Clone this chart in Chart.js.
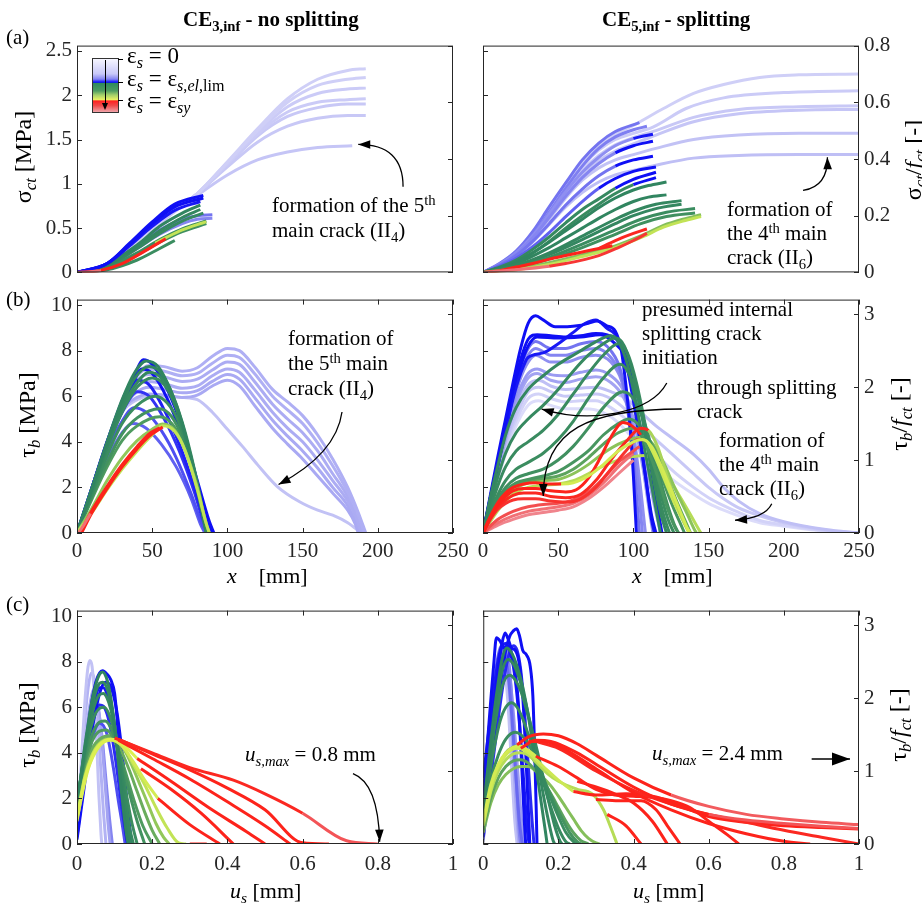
<!DOCTYPE html>
<html>
<head>
<meta charset="utf-8">
<title>Concrete stress, bond stress and slip along the tie</title>
<script src="https://cdn.jsdelivr.net/npm/chart.js@4.4.1/dist/chart.umd.min.js"></script>
<style>
  body { margin: 0; width: 922px; height: 911px; position: relative; overflow: hidden; background: #fff;
         font-family: "Liberation Serif", "Times New Roman", serif; color: #000; }
  canvas { position: absolute; }
  .t { position: absolute; font-size: 21px; line-height: 1; white-space: nowrap; }
  .b { font-weight: bold; }
  .ax { font-size: 22px; }
  .ay { font-size: 24px; }
  .rot { transform: translate(-50%, -50%) rotate(-90deg); }
  .note { line-height: 24px; }
  .leg { font-size: 23px; }
  sub, sup { font-size: 70%; line-height: 0; position: relative; vertical-align: baseline; }
  sub { top: 0.32em; }
  sup { top: -0.5em; }
  #bar { position: absolute; left: 92px; top: 58px; width: 25px; height: 53px; border: 1px solid #333;
    background: linear-gradient(to bottom, #f6f6ff 0%, #c8c8f8 28%, #8484f2 38%, #0a0aff 44%, #2e8a5e 46%,
      #4d9c60 60%, #a4d06a 68%, #eaf262 77%, #ff2020 79%, #f04a4a 88%, #f0a4aa 100%); }
  .mk { position: absolute; background: #000; }
</style>
</head>
<body>
<canvas id="stress3" width="460" height="262" style="left:20px;top:28px"></canvas>
<canvas id="stress5" width="452" height="262" style="left:470px;top:28px"></canvas>
<canvas id="bond3" width="460" height="290" style="left:20px;top:282px"></canvas>
<canvas id="bond5" width="452" height="290" style="left:470px;top:282px"></canvas>
<canvas id="slip3" width="460" height="290" style="left:20px;top:593px"></canvas>
<canvas id="slip5" width="452" height="290" style="left:470px;top:593px"></canvas>

<div class="t b" style="left:183px;top:9px">CE<sub>3,inf</sub> - no splitting</div>
<div class="t b" style="left:602px;top:9px">CE<sub>5,inf</sub> - splitting</div>
<div class="t" style="left:6px;top:27px">(a)</div>
<div class="t" style="left:6px;top:289px">(b)</div>
<div class="t" style="left:6px;top:594px">(c)</div>

<div class="t ay rot" style="left:23px;top:157px">σ<sub><i>ct</i></sub> [MPa]</div>
<div class="t ay rot" style="left:27px;top:415px">τ<sub><i>b</i></sub> [MPa]</div>
<div class="t ay rot" style="left:27px;top:725px">τ<sub><i>b</i></sub> [MPa]</div>
<div class="t ay rot" style="left:913px;top:160px">σ<sub><i>ct</i></sub>/<i>f</i><sub><i>ct</i></sub> [-]</div>
<div class="t ay rot" style="left:899px;top:414px">τ<sub><i>b</i></sub>/<i>f</i><sub><i>ct</i></sub> [-]</div>
<div class="t ay rot" style="left:898px;top:725px">τ<sub><i>b</i></sub>/<i>f</i><sub><i>ct</i></sub> [-]</div>

<div class="t ax" style="left:227px;top:565px"><i>x</i>&nbsp;&nbsp;&nbsp;&nbsp;[mm]</div>
<div class="t ax" style="left:632px;top:565px"><i>x</i>&nbsp;&nbsp;&nbsp;&nbsp;[mm]</div>
<div class="t ax" style="left:230px;top:880px"><i>u</i><sub><i>s</i></sub>&nbsp;[mm]</div>
<div class="t ax" style="left:633px;top:880px"><i>u</i><sub><i>s</i></sub>&nbsp;[mm]</div>

<div class="t" style="left:272px;top:193px;line-height:25px">formation of the 5<sup>th</sup><br>main crack (II<sub>4</sub>)</div>
<div class="t note" style="left:727px;top:197px">formation of<br>the 4<sup>th</sup> main<br>crack (II<sub>6</sub>)</div>
<div class="t" style="left:288px;top:326px;line-height:25px">formation of<br>the 5<sup>th</sup> main<br>crack (II<sub>4</sub>)</div>
<div class="t note" style="left:642px;top:297px">presumed internal<br>splitting crack<br>initiation</div>
<div class="t note" style="left:697px;top:375px">through splitting<br>crack</div>
<div class="t note" style="left:719px;top:428px">formation of<br>the 4<sup>th</sup> main<br>crack (II<sub>6</sub>)</div>
<div class="t" style="left:245px;top:744px"><i>u</i><sub><i>s,max</i></sub> = 0.8 mm</div>
<div class="t" style="left:652px;top:743px"><i>u</i><sub><i>s,max</i></sub> = 2.4 mm</div>

<!-- steel strain colour bar -->
<div id="bar"></div>
<div class="mk" style="left:105px;top:60px;width:1px;height:44px"></div>
<div style="position:absolute;left:102px;top:103px;border-left:3.5px solid transparent;border-right:3.5px solid transparent;border-top:7px solid #000"></div>
<div class="mk" style="left:118px;top:59px;width:5px;height:1px"></div>
<div class="mk" style="left:118px;top:82px;width:5px;height:1px"></div>
<div class="mk" style="left:118px;top:100px;width:5px;height:1px"></div>
<div class="t leg" style="left:127px;top:44px">ε<sub><i>s</i></sub> = 0</div>
<div class="t leg" style="left:127px;top:67px">ε<sub><i>s</i></sub> = ε<sub><i>s</i>,<i>el</i>,lim</sub></div>
<div class="t leg" style="left:127px;top:89px">ε<sub><i>s</i></sub> = ε<sub><i>sy</i></sub></div>

<script>
// concrete tensile strength, links the MPa axes to the normalised ones
const fct = 3.2;

const xTicksMm = [0, 50, 100, 150, 200, 250];
const slipTicksMm = [0, 0.2, 0.4, 0.6, 0.8, 1];
const sigmaTicks = [0, 0.5, 1, 1.5, 2, 2.5];
const sigmaRatioTicks = [0, 0.2, 0.4, 0.6, 0.8];
const tauTicks = [0, 2, 4, 6, 8, 10];
const tauRatioTicks = [0, 1, 2, 3];

// (a) concrete stress sigma_ct [MPa] over x [mm], CE3
const stressCE3 = [
  [[0,0],[20,0.08],[40,0.32],[60,0.62],[80,0.87],[100,1.1],[120,1.27],[140,1.36],[160,1.41],[183,1.43]],
  [[0,0],[20,0.08],[40,0.33],[60,0.64],[80,0.89],[100,1.19],[120,1.47],[140,1.65],[160,1.74],[180,1.77],[192,1.77]],
  [[0,0],[20,0.08],[40,0.33],[60,0.64],[80,0.89],[100,1.21],[120,1.54],[140,1.76],[160,1.86],[180,1.9],[192,1.9]],
  [[0,0],[20,0.08],[40,0.33],[60,0.64],[80,0.89],[100,1.22],[120,1.56],[140,1.81],[160,1.92],[180,1.95],[192,1.96]],
  [[0,0],[20,0.08],[40,0.33],[60,0.64],[80,0.89],[100,1.23],[120,1.58],[140,1.87],[160,2.02],[180,2.07],[192,2.08]],
  [[0,0],[20,0.08],[40,0.33],[60,0.64],[80,0.89],[100,1.24],[120,1.6],[140,1.92],[160,2.11],[180,2.18],[192,2.2]],
  [[0,0],[20,0.08],[40,0.33],[60,0.64],[80,0.89],[100,1.25],[120,1.62],[140,1.96],[160,2.18],[180,2.28],[192,2.3]],
  [[0,0],[20,0.07],[40,0.27],[55,0.43],[70,0.55],[80,0.6],[90,0.61]],
  [[0,0],[20,0.08],[40,0.3],[55,0.48],[70,0.6],[80,0.64],[90,0.65]],
  [[0,0],[20,0.03],[40,0.14],[55,0.27],[65,0.36]],
  [[0,0],[20,0.05],[40,0.2],[55,0.34],[70,0.46],[86,0.55]],
  [[0,0],[20,0.06],[40,0.22],[55,0.37],[70,0.49],[86,0.58]],
  [[52,0.33],[60,0.4],[70,0.48],[80,0.54],[86,0.57]],
  [[0,0],[20,0.07],[40,0.27],[55,0.44],[70,0.58],[84,0.67]],
  [[0,0],[20,0.08],[40,0.29],[55,0.47],[70,0.62],[82,0.71]],
  [[0,0],[20,0.09],[40,0.31],[55,0.52],[70,0.67],[82,0.76]],
  [[0,0],[20,0.1],[35,0.3],[50,0.52],[65,0.7],[82,0.8]],
  [[0,0],[20,0.1],[35,0.32],[50,0.55],[65,0.74],[84,0.84]],
  [[0,0],[20,0.1],[35,0.33],[50,0.57],[65,0.77],[84,0.87]],
  [[0,0],[15,0.02],[30,0.1],[45,0.24],[59,0.38]],
  [[0,0],[8,0.005],[16,0.02]]
];
// steel strain level of each curve (0 = unloaded, 0.45 = elastic limit, 0.83+ = yielded);
// [a, x1, b] switches from level a to level b at x1
const stressCE3Stage = [0.13,0.12,0.12,0.11,0.11,0.1,0.1, 0.3,0.33, 0.5,0.52,0.5,0.74,0.48,0.47,0.46, 0.44,0.45,0.45, 0.84,0.97];

// (a) concrete stress, CE5
const stressCE5 = [
  [[0,0],[11,0.07],[22,0.18],[33,0.34],[44,0.54],[55,0.74],[66,0.9],[77,1.02],[88,1.1],[100,1.15],[115,1.21],[140,1.29],[170,1.32],[210,1.33],[250,1.33]],
  [[0,0],[11,0.08],[22,0.2],[33,0.38],[44,0.6],[55,0.84],[66,1.04],[77,1.18],[88,1.27],[100,1.33],[115,1.4],[140,1.5],[170,1.55],[210,1.57],[250,1.57]],
  [[0,0],[11,0.09],[22,0.21],[33,0.4],[44,0.64],[55,0.89],[66,1.1],[77,1.26],[88,1.37],[100,1.45],[115,1.55],[140,1.7],[170,1.79],[210,1.83],[250,1.84]],
  [[0,0],[11,0.09],[22,0.22],[33,0.41],[44,0.66],[55,0.92],[66,1.15],[77,1.32],[88,1.44],[100,1.52],[115,1.6],[140,1.75],[170,1.84],[210,1.87],[250,1.88]],
  [[0,0],[11,0.1],[22,0.23],[33,0.43],[44,0.7],[55,0.96],[66,1.2],[77,1.38],[88,1.5],[100,1.57],[113,1.64],[135,1.85],[160,1.97],[200,2.03],[250,2.05]],
  [[0,0],[11,0.1],[22,0.24],[33,0.45],[44,0.73],[55,1.0],[66,1.25],[77,1.43],[88,1.56],[100,1.66],[120,1.85],[140,2.02],[160,2.12],[184,2.2],[210,2.23],[250,2.24]],
  [[0,0],[11,0.1],[22,0.24],[33,0.46],[44,0.74],[55,1.01],[66,1.27],[77,1.46],[88,1.59],[104,1.69]],
  [[0,0],[11,0.09],[22,0.22],[33,0.42],[44,0.68],[55,0.95],[66,1.2],[77,1.4],[88,1.53],[100,1.61],[109,1.65]],
  [[0,0],[11,0.09],[22,0.22],[33,0.41],[44,0.66],[55,0.91],[66,1.13],[77,1.3],[88,1.43],[100,1.51],[113,1.56]],
  [[0,0],[11,0.09],[22,0.21],[33,0.39],[44,0.62],[55,0.86],[66,1.07],[77,1.23],[88,1.35],[100,1.43],[113,1.48]],
  [[0,0],[11,0.08],[22,0.19],[33,0.35],[44,0.55],[55,0.76],[66,0.94],[77,1.09],[88,1.2],[100,1.27],[113,1.31]],
  [[0,0],[11,0.07],[22,0.16],[33,0.29],[44,0.45],[55,0.63],[66,0.8],[77,0.95],[88,1.06],[100,1.14],[115,1.19]],
  [[0,0],[11,0.06],[22,0.14],[33,0.26],[44,0.4],[55,0.56],[66,0.71],[77,0.83],[88,0.95],[100,1.05],[115,1.13]],
  [[0,0],[11,0.05],[22,0.12],[33,0.22],[44,0.35],[55,0.5],[66,0.64],[77,0.77],[88,0.89],[100,0.99],[115,1.07]],
  [[0,0],[11,0.05],[22,0.12],[33,0.22],[44,0.34],[55,0.47],[66,0.6],[77,0.73],[88,0.84],[100,0.93],[110,0.98],[122,1.02]],
  [[0,0],[22,0.1],[44,0.28],[55,0.39],[66,0.5],[77,0.61],[88,0.71],[100,0.8],[110,0.85],[122,0.875]],
  [[0,0],[22,0.08],[44,0.22],[66,0.41],[88,0.6],[100,0.69],[115,0.77],[132,0.81]],
  [[0,0],[22,0.07],[44,0.2],[66,0.37],[88,0.55],[100,0.64],[115,0.72],[132,0.77]],
  [[0,0],[22,0.06],[44,0.17],[66,0.32],[88,0.48],[105,0.6],[122,0.68],[141,0.72]],
  [[0,0],[22,0.05],[44,0.15],[66,0.28],[88,0.43],[105,0.55],[122,0.63],[141,0.67]],
  [[0,0],[22,0.04],[44,0.11],[66,0.2],[88,0.3],[106,0.42],[120,0.53],[133,0.6],[145,0.65]],
  [[0,0],[22,0.03],[44,0.09],[66,0.18],[88,0.28],[106,0.4],[120,0.51],[133,0.58],[145,0.63]],
  [[0,0],[11,0.02],[22,0.06],[33,0.1],[44,0.15],[55,0.19],[66,0.23],[77,0.27],[86,0.3]],
  [[77,0.27],[88,0.36],[100,0.44],[109,0.49]],
  [[0,0],[22,0.03],[44,0.07],[55,0.1],[77,0.19],[90,0.28],[100,0.36],[109,0.44]]
];
const stressCE5Stage = [0.15,0.14,0.13,0.12,0.11,0.1, 0.33,0.31,[0.28,90,0.44],[0.3,88,0.45],[0.33,78,0.45],[0.36,72,0.45],[0.48,86,0.45],[0.49,96,0.45],
  0.46,0.46,0.47,0.47,0.5,0.52,0.64,0.74, 0.84,0.85,[0.97,30,0.88]];

// (b) bond stress tau_b [MPa] over x [mm], CE3
const bondCE3 = [
  [[0,0],[10,1.9],[20,3.8],[30,5.3],[40,5.85],[48,6.0],[60,6.0],[70,5.95],[80,5.85],[90,5.3],[100,4.55],[110,3.8],[120,3.0],[133,2.05],[148,1.37],[160,1.0],[170,0.78],[180,0.45],[189,0]],
  [[0,0],[10,1.9],[20,3.85],[30,5.4],[40,5.95],[48,6.1],[58,6.05],[70,5.95],[80,6.05],[90,6.45],[100,6.7],[108,6.45],[118,5.6],[130,4.6],[140,3.9],[150,3.25],[160,2.5],[170,1.75],[180,1.0],[185,0.4],[187,0]],
  [[0,0],[10,1.9],[20,3.85],[30,5.45],[40,6.2],[48,6.4],[58,6.3],[70,6.15],[80,6.25],[90,6.65],[100,6.95],[108,6.75],[118,5.95],[130,4.95],[140,4.25],[150,3.6],[160,2.85],[170,2.0],[180,1.2],[185,0.5],[188,0]],
  [[0,0],[10,1.9],[20,3.85],[30,5.5],[40,6.45],[48,6.65],[58,6.55],[70,6.35],[80,6.45],[90,6.9],[100,7.2],[108,7.05],[118,6.3],[130,5.3],[140,4.6],[150,4.0],[160,3.2],[170,2.3],[180,1.4],[186,0.6],[189,0]],
  [[0,0],[10,1.9],[20,3.85],[30,5.6],[40,6.7],[48,6.95],[58,6.85],[70,6.65],[80,6.75],[90,7.15],[100,7.5],[108,7.4],[118,6.65],[130,5.65],[140,5.0],[150,4.4],[160,3.6],[170,2.6],[180,1.6],[186,0.7],[190,0]],
  [[0,0],[10,1.9],[20,3.9],[30,5.7],[40,6.9],[48,7.2],[58,7.1],[70,6.9],[80,7.0],[90,7.45],[100,7.8],[108,7.7],[118,7.0],[130,6.0],[140,5.4],[150,4.8],[160,3.95],[170,2.95],[180,1.8],[187,0.8],[191,0]],
  [[0,0],[10,1.9],[20,3.9],[30,5.7],[40,6.95],[48,7.35],[58,7.3],[70,7.1],[80,7.25],[90,7.75],[100,8.1],[108,8.0],[118,7.3],[130,6.3],[140,5.75],[150,5.15],[160,4.3],[170,3.25],[180,2.0],[187,0.9],[192,0]],
  [[0,0],[10,1.6],[20,3.2],[30,4.4],[37,4.8],[46,4.6],[56,3.9],[66,2.9],[76,1.5],[82,0.4],[85,0]],
  [[0,0],[10,1.8],[20,3.6],[30,4.9],[38,5.5],[46,5.3],[56,4.5],[66,3.3],[76,1.7],[83,0.4],[86,0]],
  [[0,0],[10,1.9],[20,3.8],[30,5.3],[40,6.2],[48,6.0],[58,5.0],[68,3.6],[78,1.8],[84,0.5],[87,0]],
  [[0,0],[10,2.0],[20,3.9],[30,5.5],[40,6.7],[48,6.5],[58,5.4],[68,3.9],[78,2.0],[85,0.5],[88,0]],
  [[0,0],[10,2.0],[20,4.0],[30,5.7],[38,6.7],[43,7.2],[50,7.0],[60,5.9],[70,4.2],[80,2.0],[87,0.4],[90,0]],
  [[0,0],[10,2.0],[20,4.0],[30,5.8],[38,6.9],[44,7.6],[50,7.4],[60,6.3],[70,4.6],[80,2.3],[88,0.5],[91,0]],
  [[0,0],[10,1.5],[20,2.9],[30,4.05],[40,4.7],[55,5.1],[63,4.8],[70,4.0],[78,2.5],[84,0.8],[87,0]],
  [[0,0],[10,1.6],[20,3.1],[30,4.35],[40,5.05],[55,5.45],[63,5.1],[70,4.2],[78,2.6],[84,0.8],[87,0]],
  [[0,0],[10,1.7],[20,3.4],[30,4.8],[40,5.6],[52,6.0],[60,5.7],[68,4.8],[76,3.0],[83,1.0],[86,0]],
  [[0,0],[10,1.85],[20,3.7],[30,5.3],[40,6.4],[50,6.8],[58,6.5],[66,5.5],[74,3.8],[82,1.5],[86,0]],
  [[0,0],[10,1.9],[20,3.8],[30,5.5],[40,6.6],[48,7.05],[56,6.8],[64,5.8],[72,4.2],[80,2.0],[85,0.3],[86,0]],
  [[0,0],[10,1.95],[20,3.9],[30,5.65],[38,6.75],[48,7.3],[56,7.0],[64,6.0],[72,4.4],[80,2.2],[85,0.5],[87,0]],
  [[0,0],[10,2.0],[20,4.0],[30,5.85],[38,7.0],[46,7.55],[54,7.3],[62,6.3],[70,4.8],[78,2.6],[84,0.8],[86,0]],
  [[0,0],[10,1.1],[20,2.3],[30,3.3],[40,4.05],[50,4.55],[57,4.78],[65,4.5],[72,3.6],[80,2.0],[86,0.4],[88,0]],
  [[0,0],[10,0.9],[20,1.9],[30,2.8],[40,3.6],[50,4.3],[57,4.7],[65,4.45],[72,3.6],[80,1.9],[86,0.4],[88,0]],
  [[3,0],[10,0.9],[20,1.95],[30,2.9],[40,3.7],[48,4.25],[57,4.65]],
  [[2,0],[10,1.0],[20,2.05],[30,3.0],[40,3.8],[48,4.35],[55,4.62]],
  [[1,0],[5,0.4],[9,0.85]]
];
const bondCE3Stage = [0.14,0.22,0.22,0.21,0.21,0.2,0.2, 0.36,0.38,0.41,0.43,0.45,0.45, 0.56,0.53,0.5,0.49,0.48,0.47,0.46, 0.66,0.74, 0.84,0.84,0.97];

// (b) bond stress, CE5
const bondCE5 = [
  [[0,0],[10,2.4],[20,4.4],[30,5.6],[37,5.8],[45,5.6],[55,5.45],[65,5.45],[75,5.4],[85,5.1],[95,4.5],[105,3.7],[115,3.0],[125,2.4],[140,1.7],[150,1.3],[160,1.0],[170,0.75],[184,0.45],[200,0.3],[228,0.08],[250,0]],
  [[0,0],[10,2.5],[20,4.6],[30,5.9],[37,6.1],[45,5.9],[55,5.75],[65,5.8],[75,5.8],[85,5.5],[95,5.0],[105,4.2],[115,3.5],[125,2.8],[140,2.0],[150,1.55],[160,1.2],[170,0.9],[184,0.55],[200,0.35],[228,0.1],[250,0]],
  [[0,0],[10,2.6],[20,4.8],[25,5.6],[30,6.2],[37,6.4],[45,6.2],[55,6.0],[65,6.05],[75,6.1],[85,5.9],[95,5.4],[105,4.7],[115,4.1],[125,3.5],[140,2.6],[150,2.0],[160,1.5],[170,1.1],[184,0.75],[200,0.45],[228,0.12],[250,0]],
  [[0,0],[10,2.7],[20,5.0],[25,5.9],[30,6.5],[37,6.7],[45,6.45],[55,6.3],[65,6.35],[75,6.4],[85,6.2],[95,5.9],[105,5.3],[115,4.7],[125,4.2],[140,3.45],[150,2.8],[160,2.0],[170,1.4],[184,0.85],[200,0.5],[228,0.15],[250,0]],
  [[0,0],[10,2.8],[20,5.3],[25,6.2],[30,6.8],[36,7.0],[45,6.7],[55,6.6],[65,6.75],[75,6.85],[85,6.6],[93,6.0],[100,4.9],[108,3.0],[114,1.2],[118,0]],
  [[0,0],[10,2.9],[20,5.5],[25,6.4],[30,7.0],[36,7.2],[45,6.95],[55,6.9],[65,7.05],[75,7.15],[85,6.9],[93,6.3],[100,5.0],[106,3.0],[111,0.8],[113,0]],
  [[0,0],[10,3.0],[20,5.7],[25,6.8],[30,7.5],[35,7.8],[45,7.5],[55,7.5],[65,7.7],[75,7.8],[85,7.5],[92,6.7],[99,4.8],[104,2.4],[108,0]],
  [[0,0],[10,3.1],[20,5.9],[25,7.0],[30,7.8],[35,8.1],[45,7.8],[55,7.8],[65,8.0],[75,8.1],[85,7.7],[92,6.8],[98,4.8],[103,2.2],[106,0]],
  [[0,0],[5,1.6],[10,3.2],[15,4.7],[20,6.1],[25,7.3],[30,8.1],[35,8.4],[45,8.1],[55,8.1],[65,8.3],[75,8.4],[85,8.0],[92,7.0],[97,5.0],[101,2.5],[104,0]],
  [[0,0],[5,1.5],[10,3.0],[15,4.5],[20,6.0],[25,7.3],[30,8.2],[36,8.6],[50,8.55],[65,8.6],[78,8.7],[88,8.3],[96,7.6],[104,5.8],[110,3.6],[115,1.5],[119,0]],
  [[0,0],[5,1.5],[10,3.0],[15,4.5],[20,5.9],[25,7.0],[30,7.7],[40,7.9],[50,8.3],[60,8.8],[68,9.2],[75,9.35],[82,9.0],[90,8.5],[96,7.2],[102,5.0],[108,2.5],[112,0.6],[114,0]],
  [[0,0],[5,1.6],[10,3.2],[15,4.8],[20,6.3],[25,7.6],[30,8.5],[36,8.7],[45,8.65],[55,8.6],[65,8.65],[75,8.75],[82,8.7],[90,8.4],[96,7.5],[102,5.5],[107,3.0],[112,0.8],[115,0]],
  [[0,0],[5,1.7],[10,3.4],[15,5.0],[20,6.6],[25,8.1],[30,9.2],[35,9.53],[40,9.35],[48,9.05],[56,9.05],[64,9.1],[70,9.2],[76,9.3],[82,9.1],[88,8.85],[92,8.0],[95,6.5],[98,4.5],[100,2.5],[102,0]],
  [[0,0],[10,1.0],[20,1.7],[30,2.0],[40,2.1],[50,2.15],[60,2.3],[70,2.6],[80,2.95],[90,3.2],[100,3.35],[108,3.4],[115,3.2],[122,2.6],[130,1.7],[138,0.8],[144,0.1],[145,0]],
  [[0,0],[10,1.2],[20,1.9],[30,2.2],[40,2.3],[50,2.35],[60,2.6],[70,3.0],[80,3.5],[90,3.9],[100,4.15],[106,4.2],[113,3.9],[120,3.1],[128,1.9],[136,0.8],[141,0.1],[142,0]],
  [[0,0],[10,1.3],[20,2.0],[30,2.3],[40,2.4],[50,2.5],[60,2.8],[70,3.3],[80,3.9],[90,4.4],[100,4.6],[107,4.4],[114,3.7],[122,2.5],[130,1.2],[136,0.3],[138,0]],
  [[0,0],[5,0.75],[10,1.35],[15,1.85],[22,2.2],[30,2.35],[40,2.5],[50,2.7],[60,3.1],[70,3.6],[80,4.3],[90,4.8],[97,5.0],[104,4.7],[111,3.8],[118,2.6],[126,1.2],[132,0.3],[134,0]],
  [[0,0],[5,0.8],[10,1.5],[15,2.0],[22,2.4],[30,2.6],[40,2.8],[50,3.2],[60,3.8],[70,4.6],[80,5.5],[93,6.2],[100,5.9],[107,4.9],[114,3.3],[121,1.6],[127,0.4],[130,0]],
  [[0,0],[5,0.9],[10,1.7],[15,2.3],[22,2.8],[30,3.1],[40,3.5],[50,4.1],[60,4.9],[70,5.9],[80,6.8],[91,7.4],[97,7.0],[103,5.9],[110,4.0],[117,2.0],[123,0.6],[127,0]],
  [[0,0],[5,1.1],[10,2.1],[15,2.9],[22,3.6],[30,4.0],[40,4.5],[50,5.2],[60,6.1],[70,7.0],[80,7.8],[90,8.3],[96,7.9],[102,6.6],[108,4.7],[114,2.5],[120,0.8],[124,0]],
  [[0,0],[5,1.3],[10,2.5],[15,3.5],[22,4.4],[30,5.0],[40,5.6],[50,6.3],[60,7.1],[70,7.8],[80,8.3],[88,8.55],[94,8.2],[100,6.9],[106,5.0],[112,2.8],[118,0.9],[122,0]],
  [[0,0],[5,1.6],[10,3.0],[15,4.3],[22,5.5],[30,6.3],[40,6.9],[50,7.4],[60,7.8],[70,8.2],[78,8.5],[85,8.65],[90,8.4],[96,7.4],[102,5.6],[108,3.5],[114,1.4],[118,0]],
  [[0,0],[10,0.35],[20,0.6],[30,0.8],[40,0.9],[50,1.0],[60,1.15],[70,1.5],[80,2.0],[90,2.6],[100,3.2]],
  [[0,0],[10,0.45],[20,0.75],[30,0.95],[40,1.05],[50,1.15],[60,1.3],[70,1.65],[80,2.2],[90,2.9],[100,3.5]],
  [[0,0],[10,0.6],[20,0.95],[30,1.15],[40,1.25],[50,1.3],[60,1.45],[70,1.8],[80,2.4],[90,3.1],[100,3.6],[104,3.8]],
  [[0,0],[5,0.6],[10,1.05],[15,1.3],[20,1.45],[27,1.5],[35,1.5],[45,1.4],[55,1.35],[65,1.5],[75,2.0],[85,2.8],[95,3.6],[103,4.1],[108,4.05],[114,3.4],[121,2.3],[128,1.2],[135,0.3],[138,0]],
  [[0,0],[5,0.65],[10,1.15],[15,1.45],[20,1.65],[27,1.75],[35,1.75],[45,1.6],[55,1.55],[65,1.7],[75,2.3],[85,3.2],[95,4.0],[105,4.6],[110,4.5],[116,3.8],[122,2.6],[128,1.4],[134,0.4],[137,0]],
  [[0,0],[5,0.7],[10,1.25],[15,1.6],[20,1.85],[27,1.95],[35,1.95],[45,1.85],[55,1.8],[62,1.9],[70,2.4],[78,3.3],[85,4.2],[93,4.85],[99,4.7],[105,4.3],[110,3.6],[116,2.5],[122,1.2],[128,0.2],[130,0]],
  [[0,0],[5,0.75],[10,1.35],[15,1.75],[20,2.0],[27,2.15],[35,2.2],[45,2.15],[52,2.15],[60,2.2],[70,2.5],[80,3.0],[90,3.6],[100,4.0],[106,4.1],[112,3.8],[118,3.0],[125,1.9],[132,0.8],[137,0]]
];
const bondCE5Stage = [0.06,0.09,0.12,0.15, 0.24,0.26,0.28,0.3,0.33, 0.45,0.44,0.45,0.45,
  0.72,0.65,0.58,0.55,0.52,0.5,0.49,0.48,0.47, 1.0,0.97,0.92,[0.87,106,0.76],[0.85,108,0.7],[0.84,103,0.55],[0.84,52,0.78]];

// (c) bond stress tau_b [MPa] over slip u_s [mm], CE3
const slipCE3 = [
  [[0,0.3],[0.01,1.8],[0.02,3.3],[0.03,4.6],[0.04,5.6],[0.048,6.1],[0.056,5.9],[0.066,4.8],[0.076,3.0],[0.086,1.2],[0.094,0]],
  [[0,0.4],[0.01,2.2],[0.02,4.0],[0.03,5.6],[0.04,6.6],[0.046,6.8],[0.054,6.4],[0.064,4.9],[0.074,2.8],[0.082,1.0],[0.088,0]],
  [[0,0.4],[0.01,2.8],[0.02,5.2],[0.03,6.9],[0.038,7.5],[0.046,7.2],[0.054,5.8],[0.062,3.6],[0.07,1.5],[0.077,0]],
  [[0,0.5],[0.01,3.2],[0.02,6.0],[0.028,7.6],[0.034,8.05],[0.04,7.8],[0.046,6.6],[0.052,4.6],[0.058,2.2],[0.064,0.4],[0.066,0]],
  [[0,0.3],[0.01,1.6],[0.02,2.8],[0.03,3.8],[0.04,4.6],[0.05,5.1],[0.06,5.3],[0.07,5.2],[0.08,4.8],[0.09,4.0],[0.1,3.0],[0.11,1.9],[0.12,0.9],[0.128,0]],
  [[0,0.5],[0.01,1.9],[0.02,3.2],[0.03,4.3],[0.04,5.2],[0.05,5.8],[0.06,6.1],[0.07,6.05],[0.08,5.7],[0.09,5.0],[0.1,4.0],[0.11,2.8],[0.12,1.5],[0.13,0.4],[0.134,0]],
  [[0,0.7],[0.01,2.2],[0.02,3.6],[0.03,4.8],[0.04,5.8],[0.05,6.5],[0.06,6.85],[0.07,6.85],[0.08,6.6],[0.09,6.1],[0.1,5.2],[0.11,3.8],[0.12,2.3],[0.13,0.9],[0.138,0]],
  [[0,0.2],[0.02,2.6],[0.04,5.0],[0.06,6.6],[0.075,7.1],[0.09,6.9],[0.105,5.9],[0.12,4.0],[0.135,1.5],[0.145,0]],
  [[0,0.6],[0.01,2.2],[0.02,3.8],[0.03,5.2],[0.04,6.3],[0.05,7.1],[0.06,7.5],[0.068,7.6],[0.08,7.45],[0.09,7.2],[0.1,6.6],[0.108,5.2],[0.115,3.5],[0.122,1.8],[0.13,0.5],[0.135,0]],
  [[0,1.6],[0.02,3.1],[0.04,4.0],[0.06,4.45],[0.09,4.65],[0.11,4.5],[0.13,4.0],[0.15,3.3],[0.17,2.5],[0.19,1.7],[0.21,0.9],[0.23,0.3],[0.245,0]],
  [[0,1.9],[0.02,3.3],[0.04,4.2],[0.06,4.6],[0.085,4.75],[0.1,4.6],[0.12,4.0],[0.14,3.2],[0.16,2.3],[0.18,1.4],[0.2,0.6],[0.22,0]],
  [[0,2.0],[0.01,2.8],[0.02,3.5],[0.03,4.05],[0.04,4.5],[0.05,4.8],[0.06,4.95],[0.078,5.0],[0.095,4.7],[0.11,4.1],[0.13,3.1],[0.15,2.0],[0.175,0.8],[0.2,0]],
  [[0,1.9],[0.01,2.85],[0.02,3.65],[0.03,4.3],[0.04,4.8],[0.05,5.15],[0.06,5.35],[0.075,5.4],[0.09,5.1],[0.105,4.4],[0.12,3.5],[0.14,2.2],[0.16,1.0],[0.18,0]],
  [[0,1.8],[0.01,2.9],[0.02,3.85],[0.03,4.65],[0.04,5.3],[0.05,5.75],[0.06,5.95],[0.072,6.0],[0.085,5.7],[0.1,4.9],[0.115,3.7],[0.13,2.3],[0.145,1.0],[0.16,0]],
  [[0,1.7],[0.01,2.9],[0.02,4.0],[0.03,4.9],[0.04,5.7],[0.05,6.25],[0.06,6.55],[0.07,6.6],[0.08,6.4],[0.09,5.9],[0.1,5.1],[0.11,4.1],[0.12,3.0],[0.13,1.8],[0.14,0.7],[0.15,0]],
  [[0,1.6],[0.01,2.9],[0.02,4.1],[0.03,5.1],[0.04,6.0],[0.05,6.7],[0.06,7.05],[0.068,7.1],[0.078,6.9],[0.09,6.2],[0.1,5.2],[0.11,3.9],[0.12,2.5],[0.13,1.2],[0.14,0.2],[0.143,0]],
  [[0,1.5],[0.01,2.9],[0.02,4.2],[0.03,5.3],[0.04,6.3],[0.05,7.0],[0.06,7.45],[0.068,7.55],[0.078,7.3],[0.088,6.6],[0.1,5.2],[0.11,3.6],[0.12,2.0],[0.13,0.6],[0.136,0]],
  [[0,1.2],[0.02,2.9],[0.04,3.9],[0.06,4.4],[0.09,4.6],[0.11,4.5],[0.13,4.1],[0.15,3.5],[0.18,2.6],[0.21,1.6],[0.24,0.7],[0.27,0.05],[0.29,0]],
  [[0,1.1],[0.03,3.3],[0.06,4.3],[0.09,4.55],[0.12,4.3],[0.15,3.6],[0.18,2.8],[0.215,2.0]],
  [[0,1.0],[0.02,2.8],[0.04,3.8],[0.06,4.35],[0.09,4.6],[0.12,4.4],[0.16,3.75]],
  [[0.3,0],[0.345,0]],
  [[0.215,2.0],[0.3,0.85],[0.38,0]],
  [[0.17,3.3],[0.25,2.4],[0.33,1.35],[0.416,0]],
  [[0.16,3.75],[0.25,2.75],[0.35,1.6],[0.45,0.55],[0.5,0]],
  [[0.11,4.55],[0.2,3.75],[0.3,2.85],[0.4,1.85],[0.5,0.8],[0.567,0]],
  [[0.11,4.6],[0.2,3.95],[0.3,3.25],[0.4,2.45],[0.5,1.5],[0.6,0.05],[0.67,0]],
  [[0.1,4.65],[0.2,4.0],[0.3,3.35],[0.416,2.8],[0.5,2.2],[0.6,1.35],[0.717,0.14],[0.8,0]]
];
const slipCE3Stage = [0.3,0.24,0.19,0.14, 0.38,0.42,0.44,0.45,0.45, 0.66,0.6,0.56,0.53,0.5,0.48,0.47,0.46,
  0.74,0.78,0.8, 0.84,0.84,0.84,0.84,0.84,0.84,[0.85,0.6,0.93]];

// (c) bond stress over slip, CE5
const slipCE5 = [
  [[0,0.1],[0.01,1.8],[0.02,3.6],[0.03,5.4],[0.04,6.9],[0.048,7.7],[0.054,7.8],[0.06,7.3],[0.068,5.6],[0.076,3.2],[0.084,1.0],[0.09,0]],
  [[0,0.2],[0.01,1.9],[0.02,3.7],[0.03,5.5],[0.04,7.0],[0.05,8.0],[0.056,8.2],[0.064,7.7],[0.072,6.1],[0.08,3.8],[0.088,1.5],[0.095,0]],
  [[0,1.0],[0.01,2.6],[0.02,4.2],[0.03,5.8],[0.04,7.1],[0.05,7.9],[0.06,8.0],[0.07,7.4],[0.08,5.8],[0.09,3.6],[0.1,1.4],[0.108,0]],
  [[0,0.2],[0.01,1.9],[0.02,3.8],[0.03,5.7],[0.04,7.3],[0.05,8.4],[0.058,8.7],[0.066,8.3],[0.074,6.9],[0.082,4.6],[0.09,2.1],[0.097,0.3],[0.1,0]],
  [[0,2.0],[0.01,3.8],[0.02,5.6],[0.03,7.2],[0.04,8.3],[0.048,8.7],[0.056,8.5],[0.066,7.5],[0.076,5.6],[0.086,3.2],[0.096,1.0],[0.104,0]],
  [[0,0.3],[0.01,1.6],[0.02,2.9],[0.03,4.2],[0.04,5.5],[0.05,6.7],[0.06,7.7],[0.07,8.4],[0.08,8.7],[0.09,8.5],[0.1,7.6],[0.11,5.8],[0.12,3.4],[0.13,1.0],[0.135,0]],
  [[0,2.9],[0.01,4.3],[0.02,5.7],[0.03,7.0],[0.04,8.1],[0.05,8.7],[0.06,8.8],[0.07,8.5],[0.08,7.8],[0.09,6.5],[0.1,4.5],[0.11,2.2],[0.118,0.5],[0.122,0]],
  [[0,2.0],[0.01,4.2],[0.02,6.3],[0.028,7.9],[0.035,9.05],[0.045,8.9],[0.055,8.6],[0.065,8.7],[0.075,8.4],[0.085,7.6],[0.095,5.8],[0.103,3.2],[0.11,0.8],[0.113,0]],
  [[0,1.0],[0.01,2.8],[0.02,4.6],[0.03,6.3],[0.04,7.7],[0.05,8.8],[0.058,9.26],[0.066,9.0],[0.075,8.6],[0.085,8.5],[0.095,8.0],[0.105,6.5],[0.113,4.0],[0.12,1.5],[0.124,0]],
  [[0,0.5],[0.01,2.0],[0.02,3.5],[0.03,5.0],[0.04,6.3],[0.05,7.5],[0.06,8.5],[0.07,9.1],[0.08,9.35],[0.089,9.44],[0.097,9.1],[0.105,8.5],[0.115,8.3],[0.125,7.8],[0.132,6.5],[0.137,4.0],[0.141,1.5],[0.143,0]],
  [[0,0.5],[0.02,1.8],[0.04,2.6],[0.06,3.05],[0.08,3.3],[0.1,3.4],[0.12,3.4],[0.14,3.2],[0.16,2.9],[0.18,2.55],[0.2,2.1],[0.22,1.6],[0.24,1.1],[0.26,0.6],[0.28,0.25],[0.3,0.05],[0.31,0]],
  [[0,0.6],[0.02,2.0],[0.04,2.9],[0.06,3.4],[0.08,3.65],[0.1,3.7],[0.12,3.55],[0.14,3.2],[0.16,2.75],[0.18,2.2],[0.2,1.6],[0.22,1.0],[0.24,0.5],[0.26,0.15],[0.28,0]],
  [[0,0.8],[0.02,2.4],[0.04,3.4],[0.06,4.0],[0.08,4.25],[0.095,4.3],[0.11,4.2],[0.13,3.8],[0.15,3.2],[0.17,2.5],[0.19,1.8],[0.21,1.1],[0.23,0.5],[0.25,0.1],[0.26,0]],
  [[0,1.0],[0.02,2.8],[0.04,3.9],[0.06,4.6],[0.085,4.9],[0.1,4.8],[0.12,4.4],[0.14,3.7],[0.16,2.9],[0.18,2.0],[0.2,1.2],[0.22,0.5],[0.24,0.1],[0.25,0]],
  [[0,1.2],[0.01,2.3],[0.02,3.4],[0.03,4.3],[0.045,5.4],[0.06,6.0],[0.075,6.2],[0.09,6.0],[0.105,5.5],[0.12,4.8],[0.14,3.8],[0.16,2.7],[0.18,1.6],[0.2,0.7],[0.22,0.1],[0.23,0]],
  [[0,1.3],[0.01,2.6],[0.02,3.9],[0.03,5.1],[0.04,6.1],[0.05,6.9],[0.07,7.4],[0.085,7.2],[0.1,6.7],[0.115,5.9],[0.13,5.0],[0.145,4.0],[0.16,2.9],[0.175,1.8],[0.19,0.8],[0.205,0.1],[0.21,0]],
  [[0,1.4],[0.01,2.8],[0.02,4.2],[0.03,5.5],[0.04,6.7],[0.05,7.6],[0.066,8.1],[0.08,7.9],[0.095,7.3],[0.11,6.4],[0.125,5.3],[0.14,4.0],[0.155,2.6],[0.17,1.3],[0.185,0.2],[0.19,0]],
  [[0,1.5],[0.01,3.0],[0.02,4.5],[0.03,5.9],[0.04,7.1],[0.05,8.1],[0.062,8.6],[0.075,8.4],[0.09,7.8],[0.105,6.9],[0.12,5.6],[0.135,4.0],[0.15,2.3],[0.165,0.6],[0.17,0]],
  [[0,0.8],[0.02,2.3],[0.04,3.2],[0.06,3.7],[0.08,3.95],[0.1,4.0],[0.12,3.9],[0.14,3.6],[0.17,3.1],[0.2,2.75],[0.25,2.4],[0.29,2.2],[0.32,1.5],[0.34,0.7],[0.356,0]],
  [[0,0.9],[0.03,3.0],[0.06,3.9],[0.09,4.2],[0.12,4.0],[0.16,3.4],[0.2,2.8],[0.24,2.3]],
  [[0,1.0],[0.02,2.6],[0.04,3.5],[0.06,4.0],[0.08,4.25],[0.1,4.3],[0.12,4.1],[0.14,3.85]],
  [[0.33,1.3],[0.38,0.8],[0.42,0]],
  [[0.25,2.75],[0.3,2.5],[0.35,2.2],[0.4,1.8],[0.45,1.0],[0.49,0]],
  [[0.3,1.95],[0.36,1.9],[0.42,1.9],[0.46,1.5],[0.49,0.8],[0.524,0]],
  [[0.24,2.3],[0.3,2.15],[0.38,2.2],[0.45,2.1],[0.5,1.85],[0.55,1.5],[0.6,1.2],[0.7,0.95],[0.8,0.8],[0.9,0.72],[1.0,0.66]],
  [[0.14,3.85],[0.2,3.4],[0.25,2.9],[0.3,2.4],[0.35,2.15],[0.4,2.1],[0.45,2.05],[0.5,1.9],[0.55,1.6],[0.6,1.0],[0.65,0.4],[0.68,0]],
  [[0.14,4.5],[0.2,4.2],[0.3,3.2],[0.4,2.35],[0.5,1.75],[0.6,1.3],[0.7,0.95],[0.8,0.6],[0.9,0.3],[1.0,0]],
  [[0.12,4.5],[0.16,4.5],[0.2,4.3],[0.3,3.3],[0.4,2.25],[0.5,1.5],[0.6,0.9],[0.7,0.45],[0.8,0.12],[0.87,0]],
  [[0.1,4.2],[0.14,4.55],[0.18,4.5],[0.25,4.0],[0.3,3.5],[0.4,2.5],[0.5,1.75],[0.6,1.3],[0.7,1.05],[0.8,0.9],[0.9,0.78],[1.0,0.68]],
  [[0.09,4.35],[0.12,4.7],[0.16,4.83],[0.2,4.75],[0.25,4.4],[0.3,3.9],[0.4,2.9],[0.5,2.15],[0.6,1.65],[0.7,1.3],[0.8,1.1],[0.9,0.95],[1.0,0.85]]
];
const slipCE5Stage = [0.14,0.22,0.26,0.3,0.35, 0.42,0.44,0.45,0.45,0.45, 0.64,0.58,0.54,0.5,0.49,0.48,0.47,0.46,
  0.72,0.76,0.78, 0.84,0.84,0.84,0.84,0.84,0.85,0.84,[0.84,0.6,0.93],[0.84,0.5,0.94]];

// annotation arrows, given in data units of each panel
const arrowsStressCE3 = [{ path: [[216.8, 0.967], [216.8, 1.444], [187, 1.444]], head: 12 }];
const arrowsStressCE5 = [{ path: [[212.8, 0.925], [229.4, 0.97], [229, 1.3]], head: 12 }];
const arrowsBondCE3 = [{ path: [[176.2, 5.31], [172.3, 3.47], [134, 2.13]], head: 12 }];
const arrowsBondCE5 = [
  { path: [[122.2, 6.58], [111.1, 5.23], [71.2, 4.8], [39, 5.44]], head: 12 },
  { path: [[132.1, 5.44], [71.2, 5.44], [39.9, 4.59], [40.1, 1.62]], head: 12 },
  { path: [[192, 1.28], [187.5, 0.65], [167.6, 0.56]], head: 12 }
];
const arrowsSlipCE3 = [{ path: [[0.734, 3.09], [0.801, 2.67], [0.805, 0.1]], head: 12 }];
const arrowsSlipCE5 = [{ path: [[0.874, 3.73], [0.976, 3.73]], head: 18 }];

// colour map for the steel strain level
const strainScale = [
  [0.00, [240, 240, 253]],
  [0.12, [200, 200, 246]],
  [0.25, [160, 160, 242]],
  [0.35, [105, 105, 240]],
  [0.45, [15, 15, 245]],
  [0.455, [48, 132, 96]],
  [0.55, [72, 150, 96]],
  [0.65, [140, 195, 90]],
  [0.75, [200, 230, 85]],
  [0.82, [228, 242, 80]],
  [0.825, [255, 28, 18]],
  [0.9, [244, 64, 64]],
  [1.0, [240, 132, 140]]
];

function strainColour(t) {
  for (let i = 1; i < strainScale.length; i++) {
    const [t1, c1] = strainScale[i];
    if (t <= t1) {
      const [t0, c0] = strainScale[i - 1];
      const f = (t - t0) / (t1 - t0);
      return 'rgb(' + c0.map((c, k) => Math.round(c + (c1[k] - c) * f)).join(',') + ')';
    }
  }
  return 'rgb(' + strainScale[strainScale.length - 1][1].join(',') + ')';
}

function stageAt(stage, x) {
  if (!Array.isArray(stage)) return stage;
  let t = stage[0];
  for (let i = 1; i < stage.length; i += 2) if (x >= stage[i]) t = stage[i + 1];
  return t;
}

function curveSets(curves, stages) {
  return curves.map((pts, i) => ({
    data: pts.map(([x, y]) => ({ x, y })),
    borderColor: strainColour(stageAt(stages[i], -Infinity)),
    segment: { borderColor: c => strainColour(stageAt(stages[i], c.p0.parsed.x)) },
    borderWidth: 3,
    pointRadius: 0,
    cubicInterpolationMode: 'monotone',
    fill: false,
    order: -i
  }));
}

function drawArrow(chart, arrow) {
  const { ctx, scales } = chart;
  const p = arrow.path.map(([x, y]) => [scales.x.getPixelForValue(x), scales.y.getPixelForValue(y)]);
  ctx.beginPath();
  ctx.moveTo(p[0][0], p[0][1]);
  if (p.length === 2) ctx.lineTo(p[1][0], p[1][1]);
  else if (p.length === 3) ctx.quadraticCurveTo(p[1][0], p[1][1], p[2][0], p[2][1]);
  else ctx.bezierCurveTo(p[1][0], p[1][1], p[2][0], p[2][1], p[3][0], p[3][1]);
  ctx.stroke();
  const e = p[p.length - 1], c = p[p.length - 2];
  const a = Math.atan2(e[1] - c[1], e[0] - c[0]);
  const len = arrow.head, half = arrow.head * 0.36;
  ctx.beginPath();
  ctx.moveTo(e[0], e[1]);
  ctx.lineTo(e[0] - len * Math.cos(a) + half * Math.sin(a), e[1] - len * Math.sin(a) - half * Math.cos(a));
  ctx.lineTo(e[0] - len * Math.cos(a) - half * Math.sin(a), e[1] - len * Math.sin(a) + half * Math.cos(a));
  ctx.closePath();
  ctx.fill();
}

// box, inward ticks and arrows
const framePlugin = {
  id: 'frame',
  afterDatasetsDraw(chart, args, opts) {
    const { ctx, chartArea: a, scales } = chart;
    const L = 5;
    ctx.save();
    ctx.strokeStyle = '#262626';
    ctx.lineWidth = 1;
    ctx.strokeRect(a.left + 0.5, a.top + 0.5, a.right - a.left - 1, a.bottom - a.top - 1);
    ctx.beginPath();
    if (opts.xTicks) {
      scales.x.ticks.forEach(t => {
        const px = Math.round(scales.x.getPixelForValue(t.value)) + 0.5;
        ctx.moveTo(px, a.bottom); ctx.lineTo(px, a.bottom - L);
        ctx.moveTo(px, a.top); ctx.lineTo(px, a.top + L);
      });
    }
    scales.y.ticks.forEach(t => {
      const py = Math.round(scales.y.getPixelForValue(t.value)) + 0.5;
      ctx.moveTo(a.left, py); ctx.lineTo(a.left + L, py);
    });
    scales.y2.ticks.forEach(t => {
      const py = Math.round(scales.y2.getPixelForValue(t.value)) + 0.5;
      ctx.moveTo(a.right, py); ctx.lineTo(a.right - L, py);
    });
    ctx.stroke();
    ctx.strokeStyle = '#000';
    ctx.fillStyle = '#000';
    ctx.lineWidth = 1.3;
    (opts.arrows || []).forEach(ar => drawArrow(chart, ar));
    ctx.restore();
  }
};

function axis(ticks, show, pad, size, horizontal) {
  return {
    type: 'linear',
    grid: { display: false, drawTicks: false },
    border: { display: false },
    afterBuildTicks: sc => { sc.ticks = ticks.map(v => ({ value: v })); },
    afterFit: sc => { if (horizontal) sc.height = size; else sc.width = size; },
    ticks: { display: show, padding: pad, autoSkip: false, maxRotation: 0, color: '#262626', callback: v => String(v) }
  };
}

function drawPanel(id, curves, stages, s) {
  new Chart(document.getElementById(id), {
    type: 'line',
    data: { datasets: curveSets(curves, stages) },
    options: {
      responsive: false,
      animation: false,
      events: [],
      layout: { padding: { top: 10 } },
      plugins: {
        legend: { display: false },
        tooltip: { enabled: false },
        frame: { xTicks: s.xTicks, arrows: s.arrows }
      },
      scales: {
        x: Object.assign(axis(s.xt, s.xLabels, s.xPad, s.xH, true),
          { position: 'bottom', min: 0, max: s.xt[s.xt.length - 1] }),
        y: Object.assign(axis(s.yt, s.left, 5, s.yW, false),
          { position: 'left', min: 0, max: s.rMax * fct }),
        y2: Object.assign(axis(s.rt, !s.left, 5, s.rW, false),
          { position: 'right', min: 0, max: s.rMax })
      }
    },
    plugins: [framePlugin]
  });
}

Chart.defaults.font.family = '"Liberation Serif", "Times New Roman", serif';
Chart.defaults.font.size = 21;

const leftCol = { left: true, yW: 57, rW: 27 };
const rightCol = { left: false, yW: 13, rW: 63 };
const rowA = { xt: xTicksMm, xTicks: false, xLabels: false, xPad: 0, xH: 11, yt: sigmaTicks, rt: sigmaRatioTicks, rMax: 0.8 };
const rowB = { xt: xTicksMm, xTicks: true, xLabels: true, xPad: 6, xH: 39, yt: tauTicks, rt: tauRatioTicks, rMax: 3.2 };
const rowC = { xt: slipTicksMm, xTicks: true, xLabels: true, xPad: 8, xH: 39, yt: tauTicks, rt: tauRatioTicks, rMax: 3.2 };

drawPanel('stress3', stressCE3, stressCE3Stage, Object.assign({}, rowA, leftCol, { arrows: arrowsStressCE3 }));
drawPanel('stress5', stressCE5, stressCE5Stage, Object.assign({}, rowA, rightCol, { arrows: arrowsStressCE5 }));
drawPanel('bond3', bondCE3, bondCE3Stage, Object.assign({}, rowB, leftCol, { arrows: arrowsBondCE3 }));
drawPanel('bond5', bondCE5, bondCE5Stage, Object.assign({}, rowB, rightCol, { arrows: arrowsBondCE5 }));
drawPanel('slip3', slipCE3, slipCE3Stage, Object.assign({}, rowC, leftCol, { arrows: arrowsSlipCE3 }));
drawPanel('slip5', slipCE5, slipCE5Stage, Object.assign({}, rowC, rightCol, { arrows: arrowsSlipCE5 }));
</script>
</body>
</html>
